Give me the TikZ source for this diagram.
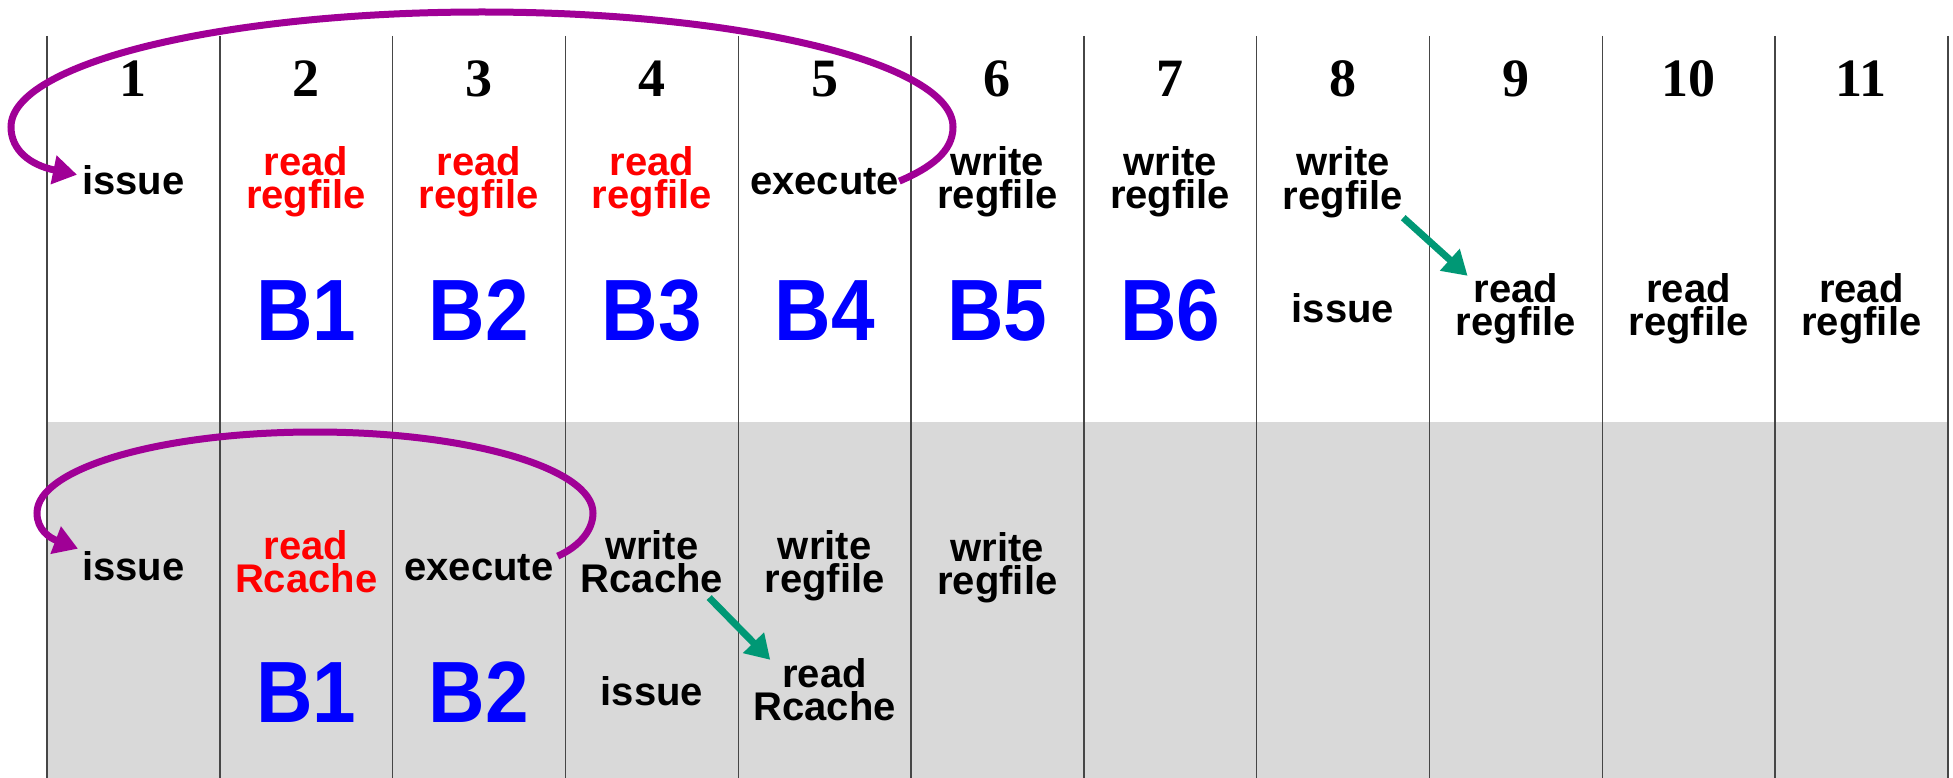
\documentclass[tikz,border=0pt]{standalone}
\usepackage{fontspec}
\setmainfont{Liberation Sans}
\newfontfamily\numfamily{Liberation Serif}
\newfontfamily\bigfamily{Liberation Sans}[FakeStretch=0.9]
\usetikzlibrary{arrows.meta,calc}
\definecolor{bggray}{RGB}{217,217,217}
\definecolor{lnGray}{RGB}{70,70,70}
\definecolor{loopPurple}{RGB}{160,0,150}
\definecolor{fwdGreen}{RGB}{0,152,117}
\definecolor{lblRed}{RGB}{255,0,0}
\definecolor{lblBlue}{RGB}{0,0,255}
\begin{document}
\begin{tikzpicture}[x=1pt,y=-1pt,
  vline/.style={draw=lnGray,line width=1.4pt},
  lbl/.style={inner sep=0pt,anchor=base,align=center,font=\fontsize{40}{33}\selectfont\bfseries},
  rlbl/.style={lbl,text=lblRed},
  blbl/.style={inner sep=0pt,anchor=base,text=lblBlue,font=\bigfamily\bfseries\fontsize{87}{87}\selectfont},
  num/.style={inner sep=0pt,anchor=base,font=\numfamily\bfseries\fontsize{54}{54}\selectfont},
  loop/.style={draw=loopPurple,line width=7pt,-{Triangle[length=24pt,width=28pt]}},
  fwd/.style={draw=fwdGreen,line width=7pt,-{Triangle[length=24pt,width=28pt]}}]
\useasboundingbox (0,0) rectangle (1953,778);
% grey lower band
\fill[bggray] (47,422) rectangle (1948,778);
% column separators
\foreach \i in {0,...,11} \draw[vline] ({47+172.8*\i},36) -- ({47+172.8*\i},778);
% cycle numbers
\foreach \k in {1,...,11} \node[num] (n\k) at ({133.4+172.8*(\k-1)},97) {\k};

% ---------- upper band (two-line labels are placed by their last baseline) ----------
\node[lbl] (is1) at (133.4,194) {issue};
\node[rlbl] (rd2) at (306.2,208) {read\\regfile};
\node[rlbl] (rd3) at (479.0,208) {read\\regfile};
\node[rlbl] (rd4) at (651.8,208) {read\\regfile};
\node[lbl] (ex1) at (824.6,194) {execute};
\node[lbl] (w6) at (997.4,208) {write\\regfile};
\node[lbl] (w7) at (1170.2,208) {write\\regfile};
\node[lbl] (w8) at (1343.0,209) {write\\regfile};

\node[blbl] (b1) at (306.2,340) {B1};
\node[blbl] (b2) at (479.0,340) {B2};
\node[blbl] (b3) at (651.8,340) {B3};
\node[blbl] (b4) at (824.6,340) {B4};
\node[blbl] (b5) at (997.4,340) {B5};
\node[blbl] (b6) at (1170.2,340) {B6};
\node[lbl] (is8) at (1343.0,322) {issue};
\node[lbl] (r9) at (1515.8,335) {read\\regfile};
\node[lbl] (r10) at (1688.6,335) {read\\regfile};
\node[lbl] (r11) at (1861.4,335) {read\\regfile};

% ---------- lower band ----------
\node[lbl] (is2) at (133.4,580) {issue};
\node[rlbl] (rc2) at (306.2,592) {read\\Rcache};
\node[lbl] (ex2) at (479.0,580) {execute};
\node[lbl] (w4) at (651.8,592) {write\\Rcache};
\node[lbl] (w5) at (824.6,592) {write\\regfile};
\node[lbl] (w6l) at (997.4,594) {write\\regfile};

\node[blbl] (lb1) at (306.2,722) {B1};
\node[blbl] (lb2) at (479.0,722) {B2};
\node[lbl] (is4) at (651.8,705) {issue};
\node[lbl] (r5) at (824.6,720) {read\\Rcache};

% ---------- connectors ----------
\draw[loop] (ex1.east) .. controls (930,168) and (953,152) .. (953,127)
  arc[start angle=0,end angle=-180,x radius=471,y radius=115]
  .. controls (11,150) and (30,165) .. ($(is1.west)+(-5,-5)$);
\draw[loop] ($(ex2.east)+(4,-11)$) .. controls (580,546) and (593,530) .. (593,513)
  arc[start angle=0,end angle=-180,x radius=278,y radius=81]
  .. controls (37,530) and (50,538) .. ($(is2.west)+(-4,-17)$);
\draw[fwd] (w8.south east) -- ($(r9.north west)+(12,3)$);
\draw[fwd] ($(w4.south east)+(-14,5)$) -- ($(r5.north west)+(17,2)$);
\end{tikzpicture}
\end{document}
